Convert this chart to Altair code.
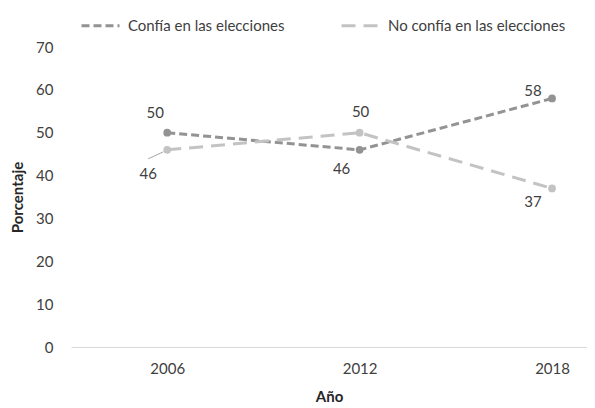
import altair as alt
import pandas as pd

years = [2006, 2012, 2018]
series_names = ["Confía en las elecciones", "No confía en las elecciones"]
confia = [50, 46, 58]
no_confia = [46, 50, 37]
y_ticks = [0, 10, 20, 30, 40, 50, 60, 70]

rows = []
for s, vals in zip(series_names, [confia, no_confia]):
    for yr, v in zip(years, vals):
        rows.append({"year": yr, "serie": s, "valor": v})
df = pd.DataFrame(rows)

FONT = "Lato"
TXT = "#404040"
colors = ["#939393", "#c3c3c3"]
dashes = [[8, 4], [14, 8]]

x_enc = alt.X("year:Q", scale=alt.Scale(domain=[2003.0, 2019.09], nice=False, zero=False),
              axis=alt.Axis(values=years, format="d", title="Año", grid=False, ticks=False,
                            domainColor="#d9d9d9", domainWidth=1, labelPadding=14,
                            titlePadding=13))
y_enc = alt.Y("valor:Q", scale=alt.Scale(domain=[0, 70], nice=False),
              axis=alt.Axis(values=y_ticks, title="Porcentaje", grid=False, ticks=False,
                            domain=False, labelPadding=18, titlePadding=10))
leg = dict(title=None, orient="none", direction="horizontal",
           legendX=9, legendY=-42, symbolType="stroke",
           symbolStrokeWidth=3, symbolSize=1444,
           columnPadding=50, labelOffset=7, labelLimit=400)
color_enc = alt.Color("serie:N", scale=alt.Scale(domain=series_names, range=colors),
                      legend=alt.Legend(**leg))
dash_enc = alt.StrokeDash("serie:N", scale=alt.Scale(domain=series_names, range=dashes),
                          legend=alt.Legend(**leg))

base = alt.Chart(df)
lines = base.mark_line(strokeWidth=3).encode(x=x_enc, y=y_enc, color=color_enc, strokeDash=dash_enc)
points = base.mark_point(filled=True, size=60, opacity=1).encode(
    x="year:Q", y="valor:Q",
    color=alt.Color("serie:N", scale=alt.Scale(domain=series_names, range=colors), legend=None))

label_style = {
    (series_names[0], 2006): (-12, -20),
    (series_names[1], 2006): (-19, 24),
    (series_names[0], 2012): (-18, 19),
    (series_names[1], 2012): (1, -21),
    (series_names[0], 2018): (-19, -7),
    (series_names[1], 2018): (-19, 14),
}
text_layers = []
for (s, yr), (dx, dy) in label_style.items():
    text_layers.append(
        base.transform_filter((alt.datum.serie == s) & (alt.datum.year == yr))
        .mark_text(dx=dx, dy=dy, fontSize=15, font=FONT, color=TXT)
        .encode(x="year:Q", y="valor:Q", text="valor:Q")
    )

leader = base.transform_filter((alt.datum.serie == series_names[1]) & (alt.datum.year == years[0])).mark_rule(
    color="#a6a6a6", strokeWidth=1, xOffset=-4, yOffset=2, x2Offset=-19, y2Offset=9
).encode(x="year:Q", y="valor:Q", x2="year:Q", y2="valor:Q")

chart = alt.layer(lines, points, leader, *text_layers).properties(
    width=516, height=300,
    autosize=alt.AutoSizeParams(type="none"),
    padding={"left": 63, "top": 39, "right": 0, "bottom": 60},
).configure_view(stroke=None).configure_axis(
    labelFont=FONT, labelFontSize=15, labelColor=TXT,
    titleFont=FONT, titleFontSize=15, titleFontWeight="bold", titleColor="#262626",
).configure_legend(labelFont=FONT, labelFontSize=15, labelColor=TXT)

chart.save("out.html", embed_options={"renderer": "svg", "actions": False})
